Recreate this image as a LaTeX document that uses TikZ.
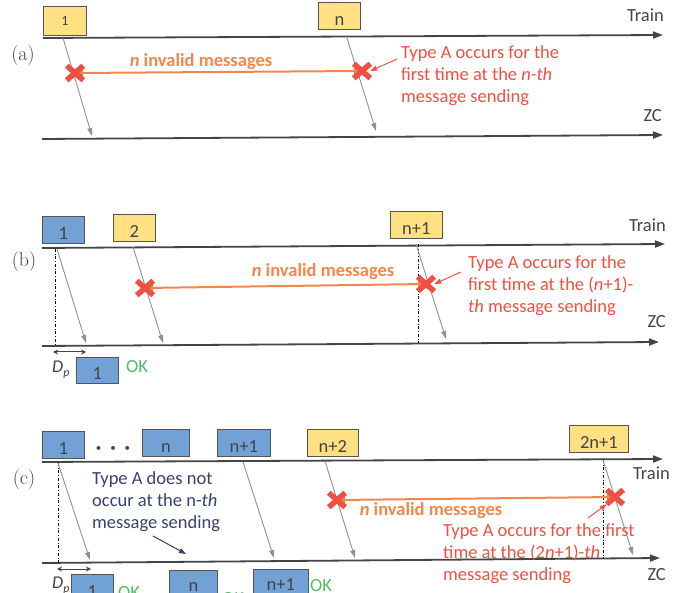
\documentclass[tikz,border=0pt]{standalone}
\usepackage{fontspec}
\newfontfamily\calfont{Carlito}
\usetikzlibrary{arrows.meta}
\usetikzlibrary{shapes.misc}

\definecolor{boxyellow}{RGB}{255,224,130}
\definecolor{boxblue}{RGB}{114,161,214}
\definecolor{boxedge}{RGB}{85,85,85}
\definecolor{axisgray}{RGB}{68,68,68}
\definecolor{msggray}{RGB}{145,145,145}
\definecolor{invorange}{RGB}{242,135,75}
\definecolor{typered}{RGB}{240,80,65}
\definecolor{okgreen}{RGB}{80,190,100}
\definecolor{navytext}{RGB}{55,65,115}

\begin{document}
\begin{tikzpicture}[x=1pt, y=-1pt,
    timeline/.style={axisgray, line width=1.8pt, -{Triangle[length=10pt,width=7pt]}},
    msg/.style={msggray, line width=0.9pt, -{Triangle[length=8pt,width=5pt]}},
    inv/.style={invorange, line width=2pt,
      {Triangle[length=8pt,width=6pt]}-{Triangle[length=8pt,width=6pt]}},
    xmark/.style={cross out, draw=typered, line width=5.5pt, minimum width=11pt,
      minimum height=9pt, inner sep=0pt},
    pointer/.style={line width=1pt, -{Triangle[length=7pt,width=5pt]}},
    dp/.style={axisgray, line width=1pt,
      {Stealth[length=5pt,width=5pt]}-{Stealth[length=5pt,width=5pt]}},
    proj/.style={black, line width=0.5pt, dash dot},
    msgbox/.style={draw=boxedge, line width=0.8pt, anchor=north west, inner sep=0pt,
      minimum width=42pt, text height=23pt, text depth=4pt, text=axisgray,
      font=\calfont\fontsize{18.5}{20}\selectfont},
    yel/.style={msgbox, fill=boxyellow},
    blu/.style={msgbox, fill=boxblue},
    lbl/.style={font=\calfont\fontsize{18.5}{20}\selectfont, text=axisgray, inner sep=0pt},
    panel/.style={font=\fontsize{20}{22}\selectfont, text=axisgray},
    invtext/.style={font=\calfont\bfseries\fontsize{18.5}{20}\selectfont, text=invorange,
      anchor=base, inner sep=0pt},
    note/.style={font=\calfont\fontsize{18.5}{22}\selectfont, align=left,
      anchor=north west, inner sep=0pt},
    ok/.style={font=\calfont\fontsize{18.5}{20}\selectfont, text=okgreen,
      anchor=base west, inner sep=0pt},
    dlabel/.style={font=\calfont\itshape\fontsize{18}{20}\selectfont, text=axisgray,
      anchor=base west, inner sep=0pt},
  ]
  \path[use as bounding box, clip] (0,0) rectangle (694,593);

  % ---------- (a) ----------
  \node[panel] (pa) at (23,56) {(a)};
  \node[yel, minimum width=43pt, text height=19pt, text depth=10pt,
    font=\calfont\fontsize{14}{15}\selectfont] (ta1) at (43,6) {1};
  \node[yel] (tan) at (318,2) {n};
  \coordinate (aT0) at (43,38);  \coordinate (aT1) at (663,35);
  \coordinate (aZ0) at (42,139); \coordinate (aZ1) at (663,135);
  \draw[timeline] (aT0) -- (aT1);
  \draw[timeline] (aZ0) -- (aZ1);
  \node[lbl, anchor=base east] (atrain) at (664,22) {Train};
  \node[lbl, anchor=base east] (azc) at (662,122) {ZC};
  \coordinate (a1s) at (63,38);  \coordinate (a1e) at (92,136);
  \coordinate (ans) at (346,35); \coordinate (ane) at (376,131);
  \draw[msg] (a1s) -- (a1e);
  \draw[msg] (ans) -- (ane);
  \coordinate (ax1) at (75,73); \coordinate (axn) at (362,71);
  \draw[inv] (ax1) -- (axn);
  \node[xmark] (xa1) at (ax1) {};
  \node[xmark] (xan) at (axn) {};
  \node[invtext] (ainv) at (201,67) {\textit{n} invalid messages};
  \node[note, text=typered] (anote) at (401,45.5)
    {Type A occurs for the\\first time at the \textit{n-th}\\message sending};
  \draw[pointer, typered] (397,59) -- (xan.east);

  % ---------- (b) ----------
  \node[panel] (pb) at (24,262) {(b)};
  \node[blu] (tb1) at (42,216) {1};
  \node[yel] (tb2) at (113,214) {2};
  \node[yel, minimum width=52pt] (tbn1) at (390,211) {n+1};
  \coordinate (bT0) at (42,248); \coordinate (bT1) at (665,244);
  \coordinate (bZ0) at (42,346); \coordinate (bZ1) at (659,342);
  \draw[timeline] (bT0) -- (bT1);
  \draw[timeline] (bZ0) -- (bZ1);
  \node[lbl, anchor=base east] (btrain) at (666,232) {Train};
  \node[lbl, anchor=base east] (bzc) at (666,328) {ZC};
  \coordinate (b1s) at (57,249);  \coordinate (b1e) at (86,343);
  \coordinate (b2s) at (133,247); \coordinate (b2e) at (163,343);
  \coordinate (bns) at (416,244); \coordinate (bne) at (446,339);
  \draw[proj] (55,249) -- (55,346);
  \draw[proj] (418,244) -- (418,343);
  \draw[msg] (b1s) -- (b1e);
  \draw[msg] (b2s) -- (b2e);
  \draw[msg] (bns) -- (bne);
  \coordinate (bx2) at (145,288); \coordinate (bxn) at (426,284);
  \draw[inv] (bx2) -- (bxn);
  \node[xmark] (xb2) at (bx2) {};
  \node[xmark] (xbn) at (bxn) {};
  \node[invtext] (binv) at (323,277) {\textit{n} invalid messages};
  \node[note, text=typered] (bnote) at (468,255.5)
    {Type A occurs for the\\first time at the (\textit{n}+1)-\\\textit{th} message sending};
  \draw[pointer, typered] (461,272) -- (xbn.east);
  \coordinate (bd0) at (53,352); \coordinate (bd1) at (86,352);
  \draw[dp] (bd0) -- (bd1);
  \node[dlabel] (bdp) at (52,373) {D\raisebox{-4pt}{\fontsize{12}{12}\selectfont p}};
  \node[blu, minimum width=42pt, text height=22pt] (rb1) at (76,357) {1};
  \node[ok] (bok) at (126,373) {OK};

  % ---------- (c) ----------
  \node[panel] (pc) at (24,480) {(c)};
  \node[blu] (tc1) at (42,431) {1};
  \node[text=axisgray, font=\calfont\fontsize{11}{12}\selectfont] (cdots) at (113,449)
    {\textbullet\hspace{9pt}\textbullet\hspace{9pt}\textbullet};
  \node[blu, minimum width=47pt] (tcn) at (142,429) {n};
  \node[blu, minimum width=53pt] (tcn1) at (217,429) {n+1};
  \node[yel, minimum width=51pt] (tcn2) at (307,429) {n+2};
  \node[yel, minimum width=59pt] (tc2n1) at (569,425) {2n+1};
  \coordinate (cT0) at (42,462); \coordinate (cT1) at (663,459);
  \coordinate (cZ0) at (42,563); \coordinate (cZ1) at (660,558);
  \draw[timeline] (cT0) -- (cT1);
  \draw[timeline] (cZ0) -- (cZ1);
  \node[lbl, anchor=base east] (ctrain) at (670,480) {Train};
  \node[lbl, anchor=base east] (czc) at (666,580) {ZC};
  \coordinate (c1s) at (58,463);   \coordinate (c1e) at (90,560);
  \coordinate (cn1s) at (243,462); \coordinate (cn1e) at (274,558);
  \coordinate (cn2s) at (325,461); \coordinate (cn2e) at (355,558);
  \coordinate (c2ns) at (603,460); \coordinate (c2ne) at (633,555);
  \draw[proj] (58,463) -- (58,563);
  \draw[proj] (603,460) -- (603,558);
  \draw[msg] (c1s) -- (c1e);
  \draw[msg] (cn1s) -- (cn1e);
  \draw[msg] (cn2s) -- (cn2e);
  \draw[msg] (c2ns) -- (c2ne);
  \coordinate (cx2) at (337,500); \coordinate (cxn) at (615,497);
  \draw[inv] (cx2) -- (cxn);
  \node[xmark] (xc2) at (cx2) {};
  \node[xmark] (xcn) at (cxn) {};
  \node[invtext] (cinv) at (431,516) {\textit{n} invalid messages};
  \node[note, text=typered] (cnote) at (443,523.5)
    {Type A occurs for the first\\time at the (2\textit{n}+1)-\textit{th}\\message sending};
  \draw[pointer, typered] (588,518) -- (xcn.south west);
  \node[note, text=navytext] (cnav) at (92,471.5)
    {Type A does not\\occur at the n-\textit{th}\\message sending};
  \coordinate (cnp) at (186,554);
  \draw[pointer, navytext] (153,536) -- (cnp);
  \coordinate (cd0) at (57,569); \coordinate (cd1) at (91,569);
  \draw[dp] (cd0) -- (cd1);
  \node[dlabel] (cdp) at (52,588) {D\raisebox{-4pt}{\fontsize{12}{12}\selectfont p}};
  \node[blu] (rc1) at (71,574) {1};
  \node[ok] (cok1) at (118,598) {OK};
  \node[blu, minimum width=48pt, text height=21pt] (rcn) at (169,570) {n};
  \node[ok] (cokn) at (222,604) {OK};
  \node[blu, minimum width=55pt, text height=21pt] (rcn1) at (253,569) {n+1};
  \node[ok] (cokn1) at (310,591) {OK};
\end{tikzpicture}
\end{document}
